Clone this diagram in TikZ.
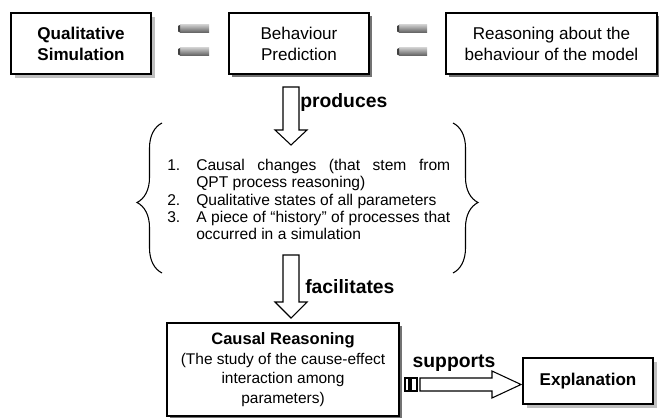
\documentclass[tikz,border=0pt]{standalone}
\usepackage{fontspec}
\setmainfont{Liberation Sans}
\usetikzlibrary{decorations.pathreplacing,shadows}
\begin{document}
\begin{tikzpicture}[x=0.75pt,y=-0.75pt,
  box/.style={draw=black, fill=white, line width=1.1pt, inner sep=0pt, align=center},
  darkshadow/.style={drop shadow={shadow xshift=2.4pt, shadow yshift=-2.4pt, fill=black!55, opacity=1}},
  lightshadow/.style={drop shadow={shadow xshift=2.8pt, shadow yshift=-2.8pt, fill=black!25, opacity=1}},
  bigtxt/.style={font=\fontsize{12.8}{15.75}\selectfont},
  midtxt/.style={font=\fontsize{11.6}{14.6}\selectfont},
  lbl/.style={font=\fontsize{14.5}{16}\selectfont\bfseries, inner sep=0pt},
  hollow/.style={draw=black, fill=white, line width=0.8pt, line join=miter},
  bracestyle/.style={decorate, line width=0.8pt},
  bar/.style={top color=black!22, bottom color=black!62, draw=none}
]
\useasboundingbox (0,0) rectangle (659,417);

% top boxes
\node[box, lightshadow, minimum width=105pt, minimum height=45.75pt, font=\fontsize{12.8}{15.75}\selectfont\bfseries]
  (qs) at (81,43.5) {Qualitative\\Simulation};
\node[box, darkshadow, bigtxt, minimum width=105pt, minimum height=45.75pt]
  (bp) at (299,43.5) {Behaviour\\Prediction};
\node[box, darkshadow, bigtxt, minimum width=158.25pt, minimum height=45.75pt]
  (rb) at (551.5,43.5) {Reasoning about the\\behaviour of the model};

% equal signs
\foreach \xa/\xb in {178/209, 397/427}{
  \shade[bar] (\xa+2,25) rectangle (\xb,32.5);
  \fill[black!75] (\xa,26) -- (\xa+2,25) -- (\xa+2,32.5) -- (\xa,31.5) -- cycle;
  \shade[bar] (\xa+2,48) rectangle (\xb,55.5);
  \fill[black!75] (\xa,49) -- (\xa+2,48) -- (\xa+2,55.5) -- (\xa,54.5) -- cycle;
}

% produces arrow
\draw[hollow] (283,87) -- (299,87) -- (299,130) -- (307,130) -- (291,145) -- (275,130) -- (283,130) -- cycle;
\node[lbl, anchor=west] (prod) at (300,103) {produces};

% braces
\draw[bracestyle, decoration={brace, amplitude=18.75pt, aspect=0.47}] (162,273) -- (162,123);
\draw[bracestyle, decoration={brace, amplitude=18.75pt, aspect=0.53}] (453,123) -- (453,273);

% list
\node[font=\fontsize{11.7}{13}\selectfont, text width=212.25pt, inner sep=0pt, align=justify, anchor=north west]
  (list) at (167,159) {%
  \hangindent=21.75pt\hangafter=1\noindent\makebox[21.75pt][l]{1.}Causal changes (that stem from\linebreak QPT process reasoning)\par
  \hangindent=21.75pt\hangafter=1\noindent\makebox[21.75pt][l]{2.}Qualitative states of all parameters\par
  \hangindent=21.75pt\hangafter=1\noindent\makebox[21.75pt][l]{3.}A piece of “history” of processes that\linebreak occurred in a simulation\par};

% facilitates arrow
\draw[hollow] (283,255) -- (299,255) -- (299,302) -- (307,302) -- (291,318) -- (275,302) -- (283,302) -- cycle;
\node[lbl, anchor=west] (fac) at (305,287) {facilitates};

% causal reasoning box
\node[box, darkshadow, midtxt, minimum width=174pt, minimum height=69.75pt]
  (cr) at (283,369.5) {{\fontsize{12.4}{14.6}\selectfont\bfseries Causal Reasoning}\\(The study of the cause-effect\\interaction among\\parameters)};

% explanation box
\node[box, lightshadow, minimum width=97.5pt, minimum height=34.5pt, font=\fontsize{12.8}{15}\selectfont\bfseries]
  (ex) at (588,381) {Explanation};

% supports arrow
\draw[hollow] (405,378) rectangle (409,391);
\draw[hollow] (411,378) rectangle (417,391);
\draw[hollow] (420,378) -- (492,378) -- (492,371) -- (521,384.5) -- (492,398) -- (492,391) -- (420,391) -- cycle;
\node[lbl] (sup) at (454,363) {supports};
\end{tikzpicture}
\end{document}
